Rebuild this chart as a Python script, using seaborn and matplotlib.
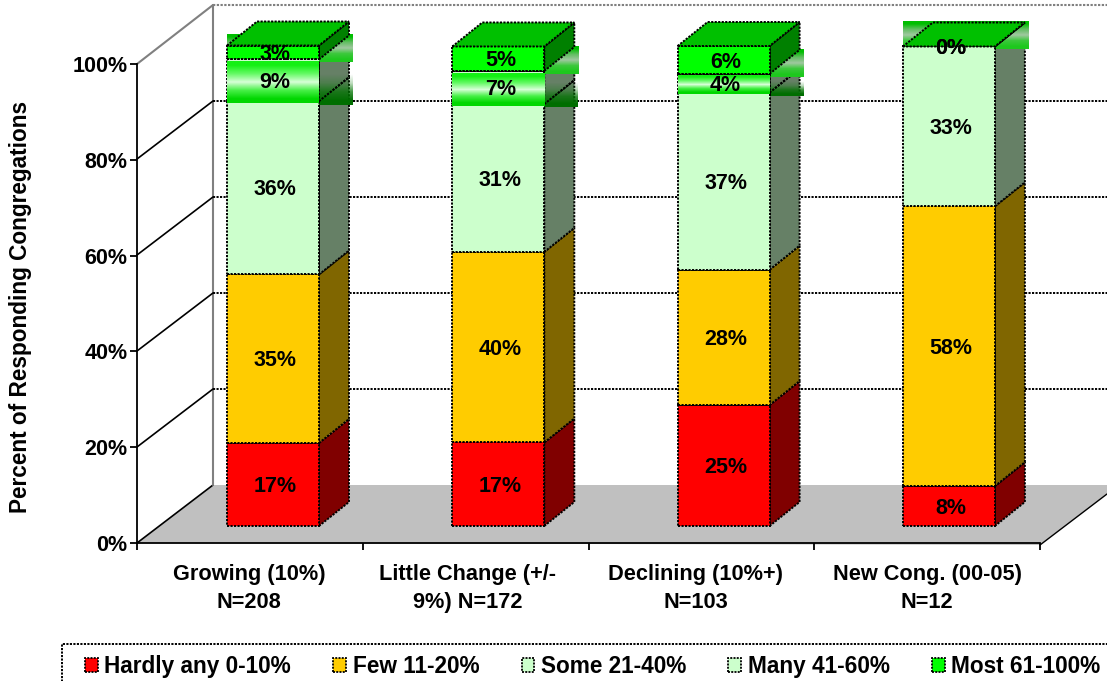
import numpy as np
import matplotlib
matplotlib.use('Agg')
import matplotlib.pyplot as plt
import seaborn as sns
from matplotlib.patches import Polygon, Rectangle

# Data
categories = ['Growing (10%)\nN=208', 'Little Change (+/-\n9%) N=172',
              'Declining (10%+)\nN=103', 'New Cong. (00-05)\nN=12']
series_names = ['Hardly any 0-10%', 'Few 11-20%', 'Some 21-40%', 'Many 41-60%', 'Most 61-100%']
hardly_any = [17.3, 17.4, 25.2, 8.3]
few = [35.1, 39.7, 28.2, 58.3]
some = [36.1, 30.8, 36.9, 33.3]
many = [8.7, 6.9, 3.9, 0.0]
most = [2.9, 5.1, 5.8, 0.0]
y_ticks = [0, 20, 40, 60, 80, 100]
y_tick_labels = ['0%', '20%', '40%', '60%', '80%', '100%']

front_colors = ['#FF0000', '#FFCC00', '#CCFFCC', '#CCFFCC', '#00FF00']
side_colors = ['#800000', '#806600', '#668066', '#668066', '#008000']
top_color = '#00C000'

W, H = 1107, 681
dash = (0, (1.1, 0.7))

sns.set_theme(style='white')
plt.rcParams['font.family'] = ['Liberation Sans', 'DejaVu Sans']
plt.rcParams['font.weight'] = 'bold'
plt.rcParams['font.size'] = 15.5
plt.rcParams['text.color'] = 'black'
plt.rcParams['xtick.color'] = 'black'
plt.rcParams['ytick.color'] = 'black'

fig = plt.figure(figsize=(W / 100, H / 100), dpi=100)

# Background: floor and walls, in pixels
bg = fig.add_axes([0, 0, 1, 1])
bg.set_xlim(0, W)
bg.set_ylim(H, 0)
bg.axis('off')
bg.add_patch(Polygon([(137, 543), (213, 485), (1107, 485), (1107, 494), (1040, 545)],
                     facecolor='#C0C0C0', edgecolor='none'))
bg.plot([1040, 1107], [545, 494], color='black', lw=1)
bg.plot([137, 213], [543, 485], color='black', lw=1.2)
bg.plot([137, 213], [64, 5], color='#808080', lw=1.5)
bg.plot([213, 213], [5, 485], color='#808080', lw=1.5)
bg.plot([213, W], [5, 5], color='#808080', lw=1.5, ls=dash)
for v in y_ticks[1:5]:
    yb = 485 - v * 4.8
    bg.plot([137, 213], [yb + 58, yb], color='black', lw=1.2)
    bg.plot([213, W], [yb, yb], color='black', lw=1.4, ls=dash)

# Front axis with the ticks
front = fig.add_axes([137 / W, 1 - 543 / H, 903 / W, 479 / H])
front.patch.set_alpha(0)
front.set_xlim(0, 4)
front.set_ylim(0, 100)
sns.despine(ax=front, top=True, right=True)
for s in ['left', 'bottom']:
    front.spines[s].set_color('black')
    front.spines[s].set_linewidth(1.3)
front.set_yticks(y_ticks)
front.set_yticklabels(y_tick_labels)
front.set_xticks(range(5))
front.set_xticklabels([])
front.set_xticks([0.497, 1.466, 2.476, 3.5], minor=True)
front.set_xticklabels(categories, minor=True, linespacing=1.42)
front.tick_params(axis='y', which='major', left=True, length=5, width=1.3, pad=2, labelsize=15.5)
front.tick_params(axis='x', which='major', bottom=True, length=5, width=1.3)
front.tick_params(axis='x', which='minor', bottom=False, length=0, pad=15, labelsize=15.7)
fig.text(21 / W, 1 - 307 / H, 'Percent of Responding Congregations', rotation=90,
         ha='center', va='center', fontsize=16.3, fontweight='bold')

# Bars
ax = fig.add_axes([0, 0, 1, 1])
ax.patch.set_alpha(0)
cat_step = 225.3
val_step = 4.8
bar_w = 92 / cat_step
dx = 30 / cat_step
dy = 24 / val_step
over_x = 34 / cat_step

all_values = [hardly_any, few, some, many, most]
bottoms = np.zeros(4)
tops_all = []
for k, values in enumerate(all_values):
    sns.barplot(x=categories, y=values, bottom=bottoms, color=front_colors[k], saturation=1,
                width=bar_w, edgecolor='black', linewidth=1.4, linestyle=dash, zorder=5,
                errorbar=None, ax=ax)
    anns = ax.bar_label(ax.containers[-1], labels=[f'{v:.0f}%' for v in values], label_type='center',
                        fontsize=15.5, fontweight='bold', zorder=9)
    for ann in anns:
        ann.xyann = (1.5, -1.5)
    for i in range(4):
        xr = i + bar_w / 2
        b, t = bottoms[i], bottoms[i] + values[i]
        ax.add_patch(Polygon([(xr, b), (xr + dx, b + dy), (xr + dx, t + dy), (xr, t)],
                             facecolor=side_colors[k], edgecolor='black', lw=1.4, ls=dash,
                             zorder=4.2 if k == 4 else 4))
    tops_all.append(bottoms.copy())
    bottoms = bottoms + np.array(values)


def gradient(x0, x1, y0, y1, stops, zorder):
    # stops go from bottom to top, rgb or rgba
    img = np.array(stops, dtype=float)[::-1]
    img[:, :3] = img[:, :3] / 255
    img = img[:, None, :]
    ax.imshow(img, extent=(x0, x1, y0, y1), aspect='auto', interpolation='bilinear',
              zorder=zorder, origin='upper')


# The shaded bands of the two top series
many_front = [(0, 215, 0), (70, 240, 70), (215, 255, 215), (100, 250, 100), (20, 240, 20)]
many_side = [(0, 110, 0, 1), (0, 115, 0, .75), (0, 120, 0, .25), (0, 120, 0, 0), (0, 120, 0, 0)]
most_back = [(30, 200, 30), (60, 200, 60), (160, 200, 160), (100, 190, 100), (0, 190, 0)]
for i in range(4):
    xl, xr = i - bar_w / 2, i + bar_w / 2
    mb, mt = tops_all[3][i], tops_all[4][i]
    top = bottoms[i]
    if many[i] > 0:
        gradient(xl, xr, mb - 0.3, mt - 0.4, many_front, 5.5)
        gradient(xr, xr + over_x, mb - 0.7, mt - 0.4, many_side, 4.05)
        ax.plot([xr, xr + dx], [mb, mb + dy], color='black', lw=1.4, ls=dash, zorder=4.06)
    # band behind the top segment
    gradient(xl, xr + over_x, mt - 0.6, mt - 0.6 + 28 / val_step, most_back, 4.1)
    ax.plot([xl, xr], [mt, mt], color='black', lw=1.4, ls=dash, zorder=6)
    # top face
    ax.add_patch(Polygon([(xl, top), (xl + dx, top + dy), (xr + dx, top + dy), (xr, top)],
                         facecolor=top_color, edgecolor='black', lw=1.4, ls=dash, zorder=6))

ax.set_xlim(-273 / cat_step, (W - 273) / cat_step)
ax.set_ylim((526 - H) / val_step, 526 / val_step)
ax.axis('off')

# Legend
fig.add_artist(Rectangle((62 / W, -0.05), 1.2, 1 - 644 / H + 0.05, transform=fig.transFigure,
                         facecolor='none', edgecolor='black', lw=1.4, ls=dash))
handles = [Rectangle((0, 0), 1, 1, facecolor=c, edgecolor='black', lw=1.3, ls=dash) for c in front_colors]
fig.legend(handles, series_names, ncol=5, loc='upper left', bbox_to_anchor=(85 / W, 1 - 655 / H),
           frameon=False, borderpad=0, borderaxespad=0, fontsize=16.3, handlelength=0.56, handleheight=0.62,
           handletextpad=0.29, columnspacing=1.87)

fig.savefig('out.png', dpi=100)
